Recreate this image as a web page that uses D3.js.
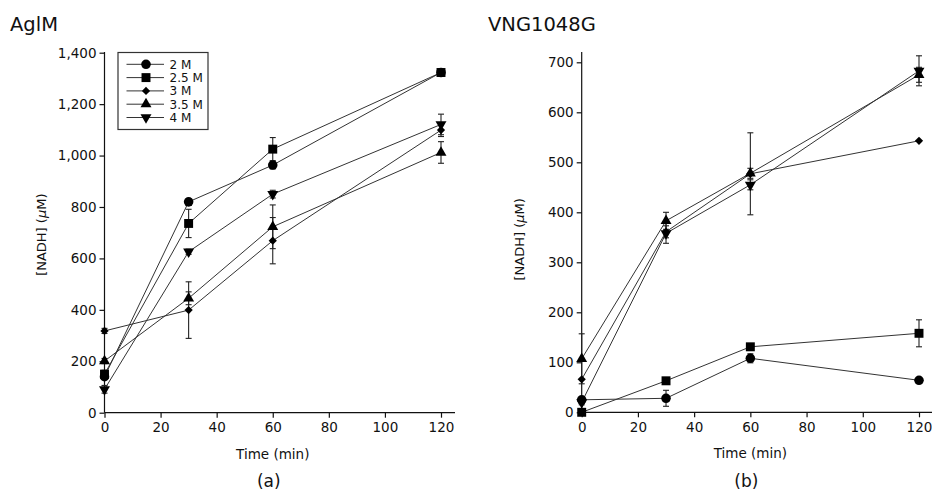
<!doctype html>
<html lang="en">
<head>
<meta charset="utf-8">
<script src="https://d3js.org/d3.v7.min.js"></script>
<style>
  body { margin: 0; background: #fff; }
  text { font-family: "DejaVu Sans", "Liberation Sans", Arial, sans-serif; fill: #111; }
</style>
</head>
<body>
<div id="chart"></div>
<script>
// data
var times = [0, 30, 60, 120];
var seriesNames = ["2 M", "2.5 M", "3 M", "3.5 M", "4 M"];

var aglmValues = [
  [140, 820, 963, 1323],
  [150, 736, 1025, 1323],
  [318, 399, 669, 1099],
  [201, 445, 723, 1012],
  [91, 626, 850, 1121]
];
var aglmErrors = [
  [10, 12, 15, 10],
  [15, 55, 45, 12],
  [10, 110, 90, 25],
  [10, 25, 85, 42],
  [15, 10, 15, 40]
];

var vngValues = [
  [25, 28, 108, 64],
  [0, 63, 131, 158],
  [66, 361, 477, 543],
  [107, 383, 478, 675],
  [20, 358, 455, 683]
];
var vngErrors = [
  [5, 16, 9, 0],
  [3, 0, 0, 27],
  [0, 12, 82, 0],
  [50, 17, 10, 15],
  [5, 20, 10, 30]
];

var aglmTicks = [0, 200, 400, 600, 800, 1000, 1200, 1400];
var vngTicks = [0, 100, 200, 300, 400, 500, 600, 700];
var timeTicks = [0, 20, 40, 60, 80, 100, 120];

var width = 932, height = 493;

var svg = d3.select("#chart").append("svg")
  .attr("width", width)
  .attr("height", height);

// marker shapes, one per series
var shapes = [
  { type: d3.symbolCircle, size: 72, rot: 0 },
  { type: d3.symbolSquare, size: 80, rot: 0 },
  { type: d3.symbolSquare, size: 34, rot: 45 },
  { type: d3.symbolTriangle, size: 52, rot: 0 },
  { type: d3.symbolTriangle, size: 52, rot: 180 }
];

function drawPanel(opt) {
  var x = d3.scaleLinear().domain([0, 120]).range([opt.x0, opt.x1]);
  var y = d3.scaleLinear().domain([0, opt.yMax]).range([opt.y0, opt.y1]);

  var g = svg.append("g");

  // axes
  var xAxis = g.append("g")
    .attr("transform", "translate(0," + opt.y0 + ")")
    .call(d3.axisBottom(x).tickValues(timeTicks).tickSizeOuter(0).tickSize(5).tickPadding(5));
  xAxis.select(".domain").attr("d", "M" + opt.x0 + ",0H" + opt.xEnd);

  var yAxis = g.append("g")
    .attr("transform", "translate(" + opt.x0 + ",0)")
    .call(d3.axisLeft(y).tickValues(opt.ticks).tickSizeOuter(0).tickSize(5).tickPadding(3)
      .tickFormat(d3.format(",")));
  yAxis.select(".domain").attr("d", "M0," + opt.y0 + "V" + opt.yTop);

  g.selectAll(".domain, .tick line").attr("stroke", "#111").attr("stroke-width", 1.2);
  g.selectAll(".tick text").style("font-size", "13.5px").attr("fill", "#111");

  // axis titles
  g.append("text")
    .attr("x", (opt.x0 + opt.x1) / 2)
    .attr("y", opt.y0 + 46)
    .attr("text-anchor", "middle")
    .style("font-size", "13.5px")
    .text("Time (min)");

  var yl = g.append("text")
    .attr("transform", "translate(" + opt.ylabX + "," + ((opt.y0 + opt.y1) / 2 + 2) + ") rotate(-90)")
    .attr("text-anchor", "middle")
    .style("font-size", "13px");
  yl.append("tspan").text("[NADH] (");
  yl.append("tspan").style("font-style", "italic").text("\u03bc");
  yl.append("tspan").text("M)");

  g.append("text")
    .attr("x", opt.titleX)
    .attr("y", 31)
    .style("font-size", "19.5px")
    .text(opt.title);

  g.append("text")
    .attr("x", (opt.x0 + opt.x1) / 2 - 4)
    .attr("y", 487)
    .attr("text-anchor", "middle")
    .style("font-size", "17px")
    .text(opt.tag);

  var line = d3.line()
    .x(function(d, i) { return x(times[i]); })
    .y(function(d) { return y(d); });

  // error bars
  opt.values.forEach(function(vals, s) {
    vals.forEach(function(v, i) {
      var e = opt.errors[s][i];
      if (!e) return;
      var cx = x(times[i]);
      g.append("line")
        .attr("x1", cx).attr("x2", cx)
        .attr("y1", y(v - e)).attr("y2", y(v + e))
        .attr("stroke", "#222").attr("stroke-width", 1.1);
      [v - e, v + e].forEach(function(c) {
        g.append("line")
          .attr("x1", cx - 3).attr("x2", cx + 3)
          .attr("y1", y(c)).attr("y2", y(c))
          .attr("stroke", "#222").attr("stroke-width", 1.1);
      });
    });
  });

  // lines
  g.selectAll(".series")
    .data(opt.values)
    .enter()
    .append("path")
    .attr("d", line)
    .attr("fill", "none")
    .attr("stroke", "#333")
    .attr("stroke-width", 1);

  // markers
  opt.values.forEach(function(vals, s) {
    var sh = shapes[s];
    g.selectAll(".m" + s)
      .data(vals)
      .enter()
      .append("path")
      .attr("d", d3.symbol().type(sh.type).size(sh.size))
      .attr("transform", function(d, i) {
        return "translate(" + x(times[i]) + "," + y(d) + ") rotate(" + sh.rot + ")";
      })
      .attr("fill", "#000");
  });

  return { x: x, y: y };
}

drawPanel({
  x0: 104.5, x1: 441, xEnd: 455, y0: 412.7, y1: 52.7, yTop: 52, yMax: 1400,
  ticks: aglmTicks, values: aglmValues, errors: aglmErrors,
  title: "AglM", titleX: 10, tag: "(a)", ylabX: 46
});

drawPanel({
  x0: 581.7, x1: 919, xEnd: 932, y0: 412.3, y1: 62.3, yTop: 52, yMax: 700,
  ticks: vngTicks, values: vngValues, errors: vngErrors,
  title: "VNG1048G", titleX: 488, tag: "(b)", ylabX: 524
});

// legend (panel a)
var legend = svg.append("g");
legend.append("rect")
  .attr("x", 118).attr("y", 52.5)
  .attr("width", 90).attr("height", 77)
  .attr("fill", "#fff")
  .attr("stroke", "#333")
  .attr("stroke-width", 1.2);

seriesNames.forEach(function(name, s) {
  var ly = 64.3 + s * 13.3;
  var sh = shapes[s];
  legend.append("line")
    .attr("x1", 126.5).attr("x2", 164)
    .attr("y1", ly).attr("y2", ly)
    .attr("stroke", "#333").attr("stroke-width", 1);
  legend.append("path")
    .attr("d", d3.symbol().type(sh.type).size(sh.size))
    .attr("transform", "translate(146," + ly + ") rotate(" + sh.rot + ")")
    .attr("fill", "#000");
  legend.append("text")
    .attr("x", 169.5)
    .attr("y", ly + 4.5)
    .style("font-size", "12px")
    .text(name);
});
</script>
</body>
</html>
